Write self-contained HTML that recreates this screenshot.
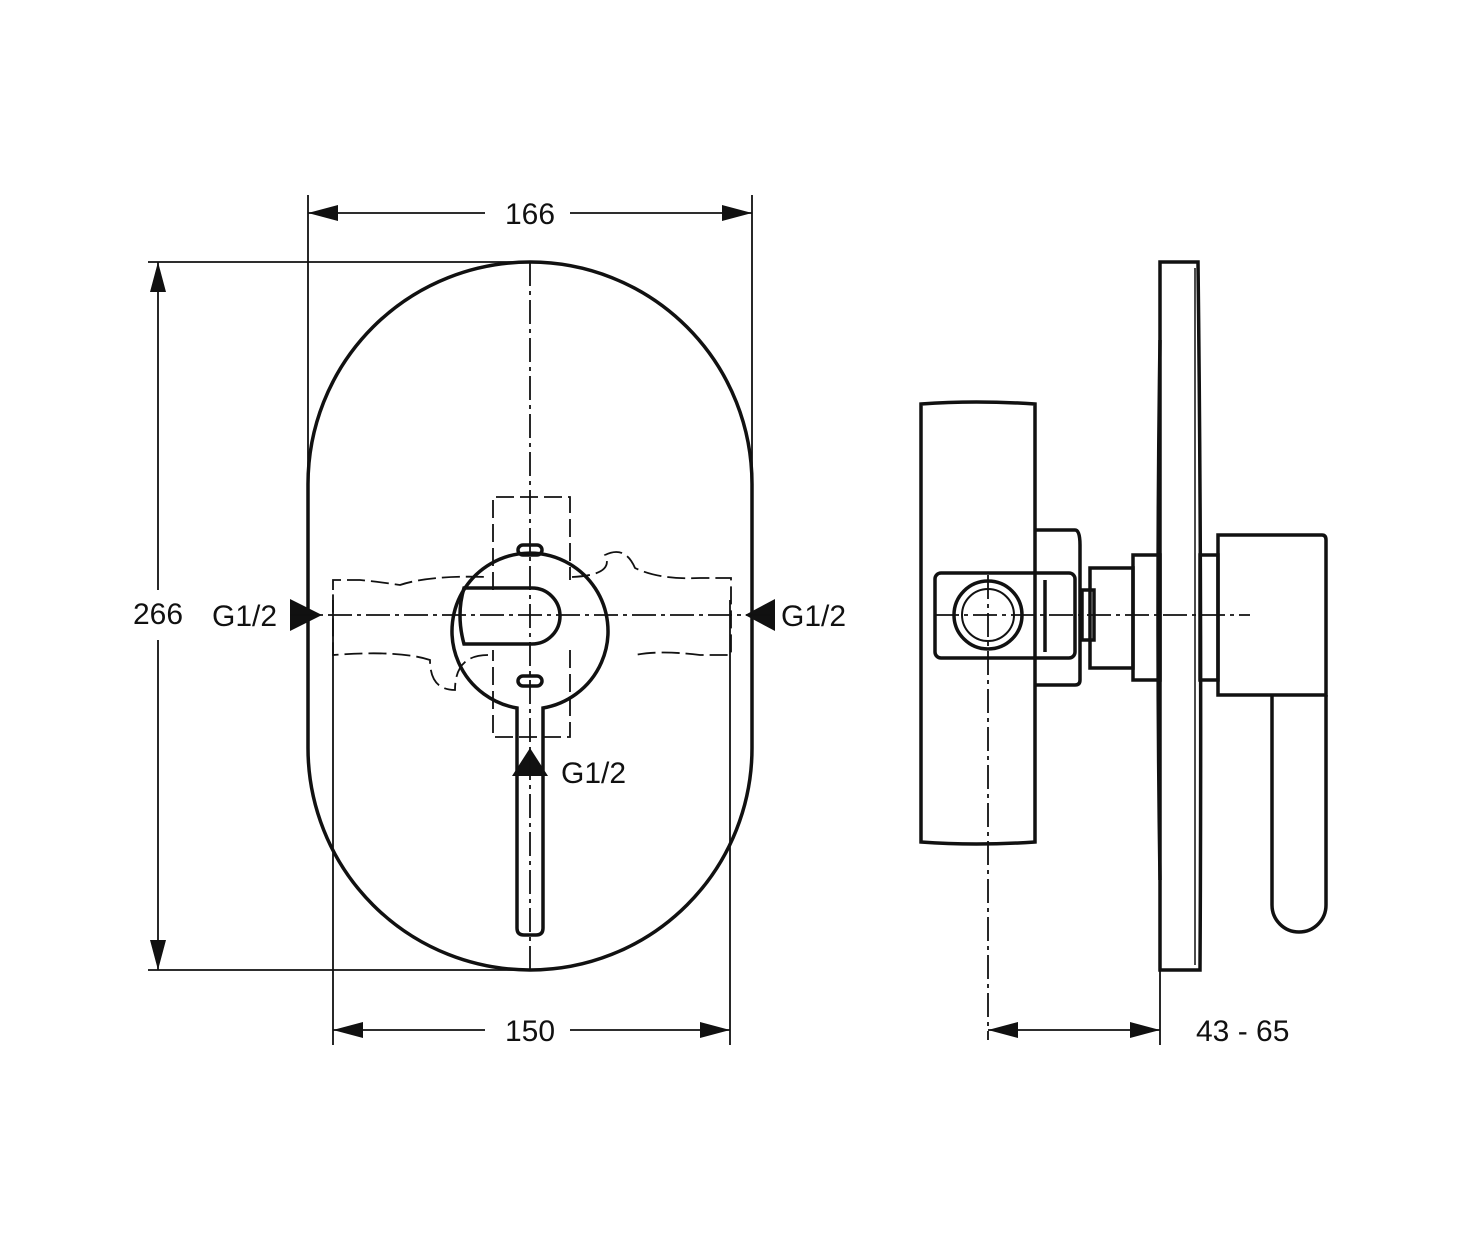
<!DOCTYPE html>
<html><head><meta charset="utf-8"><style>html,body{margin:0;background:#fff}svg{display:block}</style></head>
<body>
<svg width="1461" height="1250" viewBox="0 0 1461 1250" xmlns="http://www.w3.org/2000/svg" font-family="Liberation Sans, sans-serif" font-size="30" fill="none" stroke="#111">
<path d="M308 484 A222 222 0 0 1 752 484 L752 748 A222 222 0 0 1 308 748 Z" stroke-width="3.5"/>
<g stroke-width="1.8">
<line x1="308" y1="195" x2="308" y2="612"/><line x1="752" y1="195" x2="752" y2="612"/>
<line x1="308" y1="213" x2="485" y2="213"/><line x1="570" y1="213" x2="752" y2="213"/>
<line x1="148" y1="262" x2="530" y2="262"/><line x1="148" y1="970" x2="530" y2="970"/>
<line x1="158" y1="262" x2="158" y2="590"/><line x1="158" y1="640" x2="158" y2="970"/>
<line x1="333" y1="600" x2="333" y2="1045"/><line x1="730" y1="600" x2="730" y2="1045"/>
<line x1="333" y1="1030" x2="485" y2="1030"/><line x1="570" y1="1030" x2="730" y2="1030"/>
<line x1="1160" y1="970" x2="1160" y2="1045"/>
<line x1="988" y1="1030" x2="1160" y2="1030"/>
</g>
<g fill="#111" stroke="none">
<path d="M308 213 l30 -8 v16z"/><path d="M752 213 l-30 -8 v16z"/>
<path d="M158 262 l-8 30 h16z"/><path d="M158 970 l-8 -30 h16z"/>
<path d="M333 1030 l30 -8 v16z"/><path d="M730 1030 l-30 -8 v16z"/>
<path d="M988 1030 l30 -8 v16z"/><path d="M1160 1030 l-30 -8 v16z"/>
<path d="M322 615 l-32 -16 v32z"/><path d="M745 615 l30 -16 v32z"/>
<path d="M530 748 l-18 28 h36z"/>
</g>
<g stroke-width="1.8" stroke-dasharray="24 5 4 5">
<line x1="290" y1="615" x2="775" y2="615"/><line x1="530" y1="262" x2="530" y2="970"/>
<line x1="935" y1="615" x2="1250" y2="615"/><line x1="988" y1="575" x2="988" y2="1040"/>
</g>
<g stroke-width="1.8" stroke-dasharray="18 6">
<path d="M493 590 V497 H570 V580 M570 650 V737 H493 V650"/>
<path d="M333 590 V580 H360 Q380 582 400 585 Q430 575 488 577 M572 577 Q615 575 605 555 Q625 545 635 568 Q660 580 700 578 H731 V655 H700 Q660 650 635 655 M488 655 Q455 655 455 690 Q430 690 430 660 Q400 650 333 655 V590"/>
</g>
<g stroke-width="3.5">
<path d="M517 708 A78 78 0 1 1 543 708 L543 928 Q543 935 536 935 L524 935 Q517 935 517 928 Z"/>
<path d="M464 588 H532 A28 28 0 0 1 532 644 H464 Q456 615 464 588 Z"/>
<rect x="518" y="545" width="24" height="10" rx="5"/><rect x="518" y="676" width="24" height="10" rx="5"/>
</g>
<g fill="#111" stroke="none">
<text x="530" y="224" text-anchor="middle">166</text>
<text x="158" y="624" text-anchor="middle">266</text>
<text x="530" y="1041" text-anchor="middle">150</text>
<text x="212" y="626">G1/2</text><text x="781" y="626">G1/2</text>
<text x="561" y="783">G1/2</text>
<text x="1196" y="1041">43 - 65</text>
</g>
<g stroke-width="3.5">
<path d="M921 404 Q975 400 1035 404 V842 Q975 846 921 842 Z"/>
<path d="M1160 262 H1198 Q1202 600 1200 970 H1160 Z"/>
<line x1="1195" y1="268" x2="1195" y2="965" stroke-width="1.5"/>
<path d="M1160 340 Q1156 615 1160 880"/>
<path d="M1035 530 H1075 Q1080 530 1080 545 V680 Q1080 685 1075 685 H1035"/>
<rect x="1133" y="555" width="27" height="125"/>
<rect x="1090" y="568" width="43" height="100"/>
<rect x="1082" y="590" width="12" height="50"/>
<rect x="935" y="573" width="140" height="85" rx="6"/>
<circle cx="988" cy="615" r="34"/><circle cx="988" cy="615" r="26" stroke-width="2"/>
<line x1="1045" y1="580" x2="1045" y2="652"/>
<rect x="1200" y="555" width="18" height="125"/>
<path d="M1218 535 H1322 Q1326 535 1326 540 V695 H1218 Z"/>
<path d="M1272 695 V905 A27 27 0 0 0 1326 905 V695"/>
</g>
</svg>
</body></html>
